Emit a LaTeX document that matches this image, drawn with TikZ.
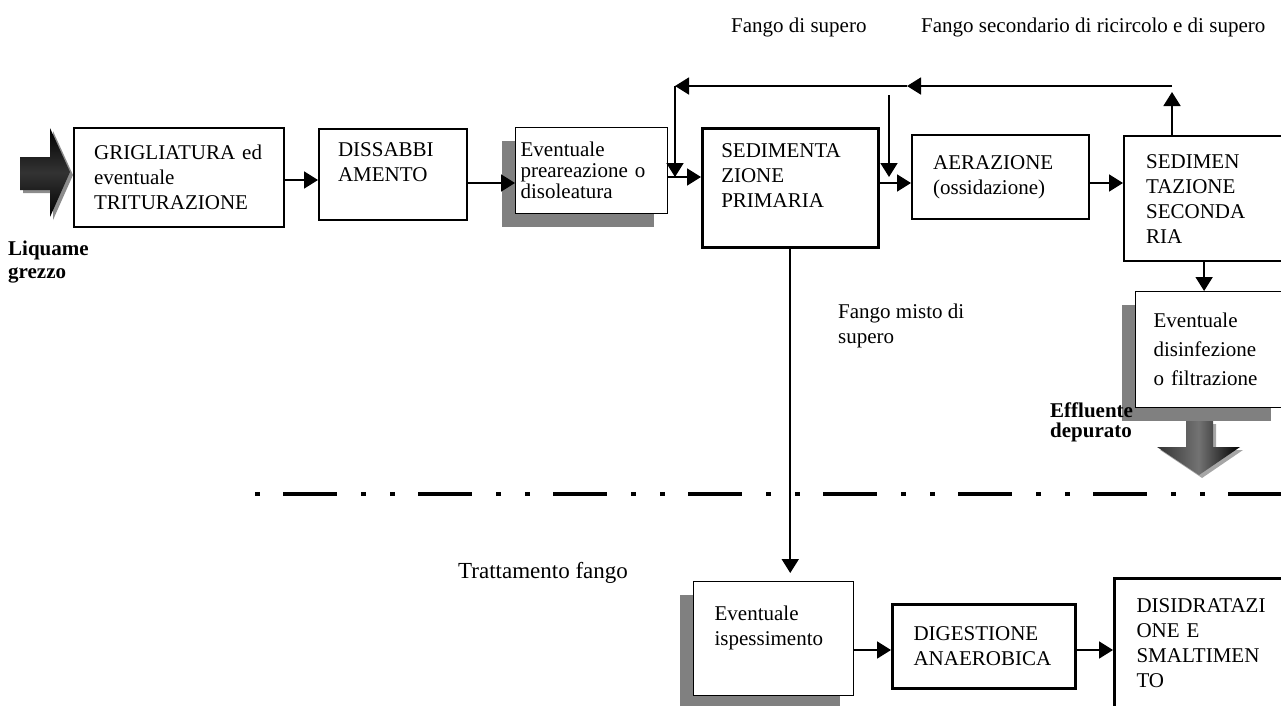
\documentclass[tikz,border=0pt]{standalone}
\usepackage{fontspec}
\setmainfont{Liberation Serif}
\usetikzlibrary{arrows.meta,shadows}
\hyphenpenalty=10000
\exhyphenpenalty=10000

\begin{document}
\begin{tikzpicture}[x=1pt,y=-1pt,
  font=\fontsize{21}{25}\selectfont,
  box/.style={draw=black,fill=white,anchor=north west,align=left,inner ysep=0pt},
  shbox/.style={box,line width=1.2pt,drop shadow={shadow xshift=-14pt,shadow yshift=-13pt,fill=black!50,opacity=1}},
  flow/.style={line width=1.8pt,-{Triangle[length=14pt,width=17pt]}},
  lbl/.style={inner sep=0pt,align=left}]

\useasboundingbox (0,0) rectangle (1281,705);

\draw[line width=4pt,dash pattern=on 5pt off 23pt on 54pt off 24pt on 5pt off 24pt] (255,494) -- (1281,494);

\node[box,line width=2.2pt,inner xsep=20pt,text width=170pt,minimum height=99pt] (grig) at (73,127) {GRIGLIATURA~ed\\eventuale\\TRITURAZIONE};
\node[box,line width=2pt,inner xsep=19pt,text width=110pt,minimum height=91pt] (diss) at (318,128) {DISSABBI\\AMENTO\\\mbox{}};
\node[shbox,inner xsep=5pt,text width=142pt,minimum height=86pt,font=\fontsize{21}{21}\selectfont] (prear) at (515,127) {Eventuale\\preareazione~o\\disoleatura};
\node[box,line width=2.5pt,inner xsep=19pt,text width=138pt,minimum height=119pt] (sedp) at (701,127) {SEDIMENTA\\ZIONE\\PRIMARIA\\\mbox{}};
\node[box,line width=2.2pt,inner xsep=21pt,text width=135pt,minimum height=84pt] (aer) at (911,134) {AERAZIONE\\(ossidazione)};
\node[box,line width=2.2pt,inner xsep=22pt,text width=116pt,minimum height=125pt] (sed2) at (1123,135) {SEDIMEN\\TAZIONE\\SECONDA\\RIA};
\node[shbox,inner xsep=18pt,text width=113pt,minimum height=116pt,font=\fontsize{21}{29}\selectfont] (disinf) at (1135,291) {Eventuale\\disinfezione\\o~filtrazione};

\node[shbox,inner xsep=21pt,text width=118pt,minimum height=114pt] (isp) at (693,581) {Eventuale\\ispessimento\\\mbox{}};
\node[box,line width=3pt,inner xsep=21pt,text width=141pt,minimum height=84pt] (dig) at (891,603) {DIGESTIONE\\ANAEROBICA};
\node[box,line width=3pt,inner xsep=22pt,text width=126pt,minimum height=130pt] (disid) at (1113,577) {DISIDRATAZI\\ONE~E\\SMALTIMEN\\TO};

\coordinate (ya) at (0,180);
\coordinate (yb) at (0,183);
\coordinate (yc) at (0,177);
\coordinate (yd) at (0,650);

\draw[flow] (grig.east |- ya) -- (diss.west |- ya);
\draw[flow] (diss.east |- yb) -- (prear.west |- yb);
\draw[flow] (prear.east |- yc) -- (sedp.west |- yc);
\draw[flow] (sedp.east |- yb) -- (aer.west |- yb);
\draw[flow] (aer.east |- yb) -- (sed2.west |- yb);
\draw[flow] (sed2.south) -- (sed2.south |- disinf.north);
\draw[flow,shorten >=8pt] (sedp.south) -- (sedp.south |- isp.north);
\draw[flow] (isp.east |- yd) -- (dig.west |- yd);
\draw[flow] (dig.east |- yd) -- (disid.west |- yd);

\coordinate (ret) at (1172,86);
\coordinate (retm) at (907,86);
\coordinate (retl) at (675,86);
\coordinate (inj) at (889,95);
\draw[flow] (sed2.north -| ret) -- ([yshift=-6pt]ret);
\draw[flow] (ret) -- (retm);
\draw[flow] (retm) -- (retl);
\draw[flow] (retl) -- (retl |- yc);
\draw[flow] (inj) -- (inj |- yc);

\fill[black!45] (23,160) -- (53,160) -- (53,131) -- (73,175) -- (53,220) -- (53,193) -- (23,193) -- cycle;
\shade[top color=black,bottom color=black,middle color=black!80] (20,157) -- (50,157) -- (50,128) -- (70,172) -- (50,217) -- (50,190) -- (20,190) -- cycle;
\fill[black!35] (1189,424) -- (1216,424) -- (1216,450) -- (1243,450) -- (1202,478) -- (1160,450) -- (1189,450) -- cycle;
\shade[left color=black!80,right color=black,middle color=black!55] (1186,421) -- (1213,421) -- (1213,447) -- (1240,447) -- (1199,475) -- (1157,447) -- (1186,447) -- cycle;

\node[lbl,anchor=north west,font=\bfseries\fontsize{21}{23}\selectfont] (liq) at (8,241) {Liquame\\grezzo};
\node[lbl,anchor=base west] (fsup) at (731,32) {Fango di supero};
\node[lbl,anchor=base west] (fsec) at (921,32) {Fango secondario di ricircolo e di supero};
\node[lbl,anchor=north west] (fmis) at (838,304) {Fango misto di\\supero};
\node[lbl,anchor=base west,font=\fontsize{23}{27}\selectfont] (trat) at (458,578) {Trattamento fango};
\node[lbl,anchor=north west,font=\bfseries\fontsize{21}{20}\selectfont] (eff) at (1050,403) {Effluente\\depurato};
\end{tikzpicture}
\end{document}
